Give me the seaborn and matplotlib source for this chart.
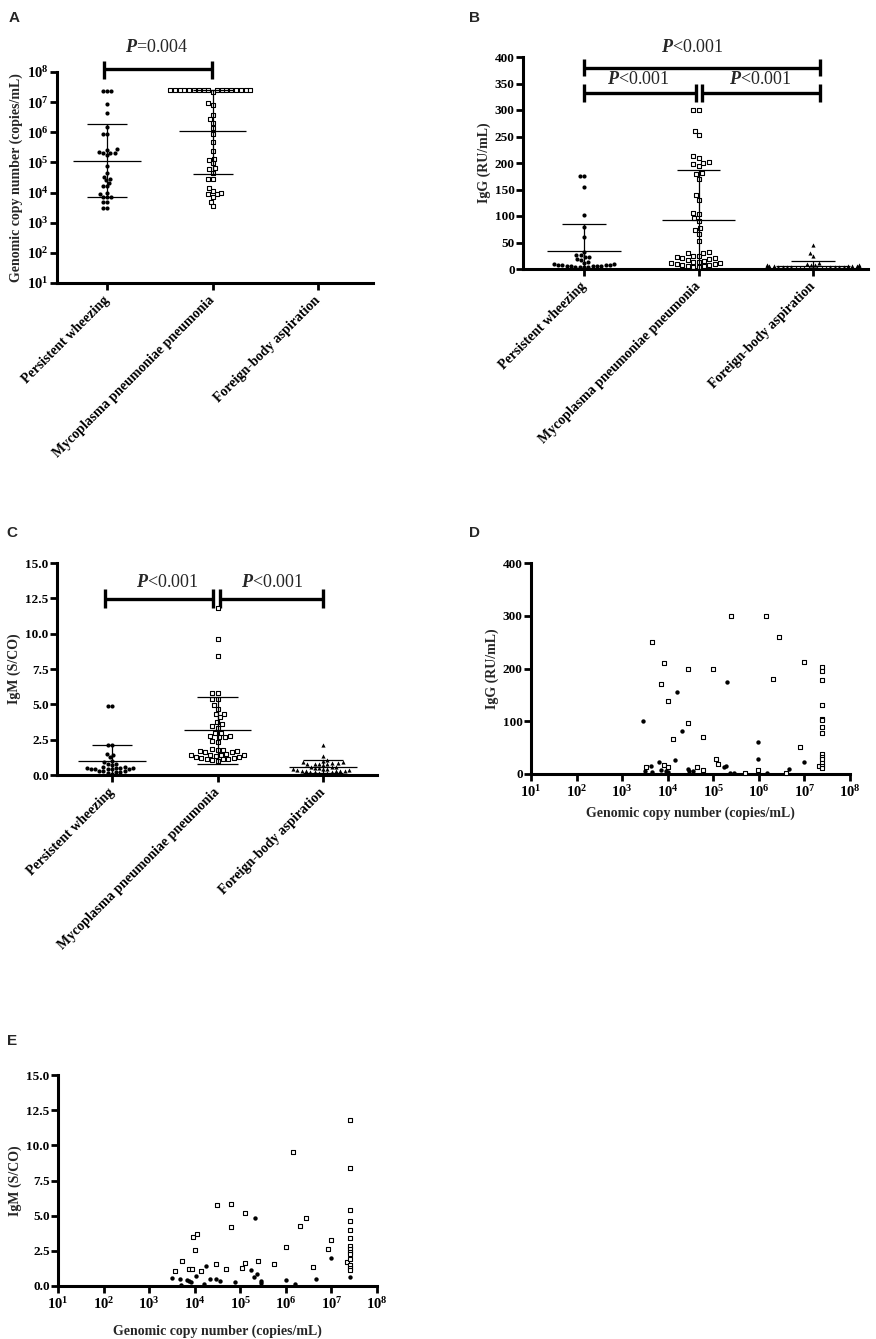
import numpy as np
import pandas as pd
import matplotlib
matplotlib.use("Agg")
import matplotlib.pyplot as plt
import seaborn as sns
from matplotlib.ticker import FixedLocator, FuncFormatter

# ---------------- data ----------------
groups = ["Persistent wheezing", "Mycoplasma pneumoniae pneumonia", "Foreign-body aspiration"]

# A: genomic copy number (copies/mL)
a_pw = [2.3e7, 2.3e7, 2.3e7, 9e6, 4.3e6, 1.5e6, 9e5, 9e5, 2.7e5, 2.1e5, 2e5, 2.5e5,
        1.7e5, 2.1e5, 2.2e5, 7.6e4, 4.4e4, 3.4e4, 2.9e4, 2.1e4, 2.6e4, 1.6e4, 1.6e4,
        1e4, 9e3, 7e3, 7e3, 7e3, 4.9e3, 4.9e3, 3e3, 3e3]
a_mpp = [2.5e7, 2.5e7, 2.5e7, 2.5e7, 2.5e7, 2.5e7, 2.5e7, 2.5e7, 2.5e7, 2.5e7, 2.5e7,
         2.5e7, 2.5e7, 2.5e7, 2.5e7, 2.5e7, 2.5e7, 2.1e7, 9.5e6, 8.2e6, 3.7e6, 2.7e6,
         2e6, 1.4e6, 9e5, 4.9e5, 2.4e5, 1.3e5, 1.2e5, 9.3e4, 6.3e4, 6e4, 4.6e4, 2.8e4,
         2.8e4, 1.4e4, 1.1e4, 9.6e3, 8.9e3, 9e3, 7.4e3, 5e3, 3.6e3]
a_mid = [1.15e5, 1.07e6]
a_lo = [6.9e3, 4.2e4]
a_hi = [1.9e6, 2.6e7]

# B: IgG (RU/mL)
b_pw = [175, 175, 154, 101, 80, 60, 33, 26, 22, 18, 14, 17, 22, 27, 11, 9, 8, 7, 6, 5,
        5, 4, 4, 3, 5, 6, 7, 8, 9, 4]
b_mpp = [300, 300, 260, 252, 213, 210, 201, 199, 195, 200, 181, 179, 170, 140, 131, 103,
         106, 96, 90, 77, 73, 66, 53, 33, 30, 30, 25, 22, 20, 19, 17, 16, 14, 14, 12, 11,
         10, 9, 8, 7, 6, 5, 4, 3, 25, 20]
b_fba = [46, 31, 25, 11, 9, 8, 7, 7, 6, 6, 5, 5, 5, 4, 4, 4, 3, 3, 3, 3, 2, 2, 2, 2,
         1, 1, 1, 1, 8, 6, 5, 4]
b_mid = [34, 93, 5]
b_lo = [-16, 0, -6]
b_hi = [84, 186, 16]

# C: IgM (S/CO)
c_pw = [4.9, 4.9, 2.1, 2.1, 1.5, 1.4, 1.25, 1.0, 0.95, 0.8, 0.75, 0.7, 0.6, 0.55, 0.5,
        0.5, 0.5, 0.5, 0.45, 0.45, 0.45, 0.4, 0.4, 0.3, 0.3, 0.25, 0.2, 0.2, 0.15, 0.1]
c_mpp = [11.8, 9.6, 8.4, 5.8, 5.8, 5.35, 5.35, 4.95, 4.7, 4.35, 4.35, 4.07, 3.77, 3.6,
         3.46, 3.34, 3.0, 2.94, 2.75, 2.75, 2.66, 2.66, 2.42, 2.3, 1.86, 1.8, 1.75, 1.7,
         1.7, 1.65, 1.6, 1.5, 1.45, 1.45, 1.4, 1.4, 1.35, 1.3, 1.25, 1.2, 1.2, 1.15,
         1.1, 1.1, 1.05, 1.0]
c_fba = [2.1, 1.34, 1.06, 1.0, 0.9, 0.9, 0.85, 0.85, 0.8, 0.8, 0.8, 0.75, 0.7, 0.6, 0.6,
         0.55, 0.5, 0.5, 0.45, 0.4, 0.4, 0.35, 0.35, 0.3, 0.3, 0.3, 0.25, 0.25, 0.2, 0.2,
         0.2, 0.15, 0.15, 0.1]
c_mid = [1.0, 3.15, 0.59]
c_lo = [-0.15, 0.78, 0.12]
c_hi = [2.15, 5.53, 1.06]

# D: IgG vs copy number
d_sq_copy = [3.4e3, 4.6e3, 7.1e3, 8.5e3, 1.02e4, 1.3e4, 2.75e4, 2.8e4, 8.5e3, 1e4, 6e4,
             4.4e4, 6e4, 9.8e4, 1.15e5, 1.26e5, 2.4e5, 4.9e5, 9.8e5, 1.4e6, 2e6, 2.7e6,
             4e6, 8.1e6, 9.7e6, 2.1e7, 2.45e7, 2.45e7, 2.45e7, 2.45e7, 2.45e7, 2.45e7,
             2.45e7, 2.45e7, 2.45e7, 2.45e7, 2.45e7, 2.45e7, 2.45e7, 2.45e7]
d_sq_igg = [13, 251, 170, 210, 139, 66, 200, 97, 18, 14, 71, 13, 7, 200, 28, 19, 300, 2,
            8, 300, 180, 260, 2, 52, 213, 16, 202, 195, 178, 131, 104, 103, 89, 78, 37,
            32, 28, 21, 16, 11]
d_ci_copy = [2.9e3, 3.2e3, 4.4e3, 4.6e3, 6.5e3, 7.1e3, 9.1e3, 1e4, 1.58e4, 1.45e4,
             2.05e4, 2.75e4, 3e4, 3.5e4, 2.05e5, 1.7e5, 1.9e5, 2.3e5, 2.8e5, 9.5e5,
             9.5e5, 1.5e6, 4.5e6, 1e7, 2.45e7]
d_ci_igg = [101, 6, 16, 4, 22, 8, 6, 4, 155, 26, 82, 9, 5, 5, 174, 13, 16, 2, 2, 61, 28,
            2, 9, 23, 33]

# E: IgM vs copy number
e_sq_copy = [3.7e3, 5.2e3, 7.6e3, 8.9e3, 9.3e3, 1e4, 1.15e4, 1.4e4, 3.1e4, 3e4, 4.9e4,
             6.3e4, 6.3e4, 1.08e5, 1.27e5, 1.3e5, 2.5e5, 5.4e5, 1e6, 1.4e6, 2.05e6,
             2.7e6, 4e6, 8.4e6, 1e7, 2.2e7, 2.5e7, 2.5e7, 2.5e7, 2.5e7, 2.5e7, 2.5e7,
             2.5e7, 2.5e7, 2.5e7, 2.5e7, 2.5e7, 2.5e7, 2.5e7, 2.5e7]
e_sq_igm = [1.07, 1.78, 1.18, 1.21, 3.5, 2.54, 3.67, 1.04, 5.76, 1.54, 1.21, 5.8, 4.2,
            1.26, 1.6, 5.2, 1.8, 1.54, 2.8, 9.55, 4.29, 4.83, 1.33, 2.63, 3.27, 1.68,
            11.8, 8.36, 5.38, 4.64, 4.0, 3.44, 2.84, 2.6, 2.42, 2.25, 1.92, 1.49, 1.3,
            1.11]
e_ci_copy = [3.2e3, 4.8e3, 5.1e3, 6.9e3, 7.6e3, 8.4e3, 1.07e4, 1.6e4, 1.74e4, 2.2e4,
             3e4, 3.6e4, 7.6e4, 1.7e5, 2.05e5, 2.3e5, 2.1e5, 2.9e5, 2.85e5, 1e6, 1.6e6,
             4.7e6, 1e7, 2.5e7]
e_ci_igm = [0.59, 0.47, 0.05, 0.43, 0.33, 0.26, 0.71, 0.12, 1.42, 0.5, 0.47, 0.38, 0.26,
            1.14, 0.66, 0.85, 4.86, 0.38, 0.19, 0.43, 0.12, 0.52, 1.97, 0.66]

# ---------------- style ----------------
sns.set_style("ticks")
plt.rcParams['font.family'] = ['Liberation Serif', 'DejaVu Serif']
plt.rcParams['font.weight'] = 'bold'
plt.rcParams['axes.labelweight'] = 'bold'
plt.rcParams['mathtext.fontset'] = 'custom'
plt.rcParams['mathtext.rm'] = 'Liberation Serif'
plt.rcParams['mathtext.it'] = 'Liberation Serif:italic'
plt.rcParams['mathtext.bf'] = 'Liberation Serif:bold'

W, H = 876, 1339
fig = plt.figure(figsize=(W / 100, H / 100), dpi=100)


def rect(l, t, r, b):
    return [l / W, 1 - b / H, (r - l) / W, (b - t) / H]


def style_ax(ax):
    sns.despine(ax=ax)
    for s in ["left", "bottom"]:
        ax.spines[s].set_linewidth(2.2)
        ax.spines[s].set_color("black")
    ax.tick_params(width=2, length=5, labelsize=9.5, pad=1, colors="black")


pow_fmt = FuncFormatter(lambda v, p: r"$\mathbf{10^{%d}}$" % round(np.log10(v)))
MK = dict(circle=dict(marker="o", color="black", linewidth=0),
          square=dict(marker="s", color="white", edgecolor="black", linewidth=0.8),
          tri=dict(marker="^", color="black", linewidth=0))


def swarm(ax, vals, gi, kind, size=3.0):
    sns.swarmplot(x=[groups[gi]] * len(vals), y=vals, order=groups, ax=ax,
                  size=size, clip_on=False, zorder=3, **MK[kind])


def summary(ax, mid, lo, hi):
    for i in range(len(mid)):
        ax.hlines(mid[i], i - 0.32, i + 0.32, color="black", lw=0.9, zorder=4)
        ax.hlines([lo[i], hi[i]], i - 0.19, i + 0.19, color="black", lw=0.9, zorder=4)
        ax.vlines(i, lo[i], hi[i], color="black", lw=0.9, zorder=4)


def bracket(ax, x0, x1, y, ylo, yhi):
    kw = dict(color="black", lw=2.4, clip_on=False, solid_capstyle="butt")
    ax.plot([x0, x1], [y, y], **kw)
    ax.plot([x0, x0], [ylo, yhi], **kw)
    ax.plot([x1, x1], [ylo, yhi], **kw)


def ptext(ax, x, y, s):
    ax.text(x, y, s, ha="center", va="center", fontsize=13, fontweight="normal",
            clip_on=False)


def cat_labels(ax):
    ax.set_xticks(range(3))
    ax.set_xticklabels(groups, rotation=45, ha="right", va="center",
                       rotation_mode="anchor", fontsize=10)
    ax.tick_params(axis="x", pad=6)
    ax.set_xlabel("")


# ---------------- A ----------------
ax = fig.add_axes(rect(57, 72, 373, 283))
ax.set_yscale("log")
ax.set_ylim(10, 1e8)
ax.set_xlim(-0.474, 2.52)
swarm(ax, a_pw, 0, "circle")
swarm(ax, a_mpp, 1, "square", size=2.5)
summary(ax, a_mid, a_lo, a_hi)
ax.yaxis.set_major_locator(FixedLocator([10 ** k for k in range(1, 9)]))
ax.yaxis.set_major_formatter(pow_fmt)
ax.yaxis.set_minor_locator(FixedLocator([]))
ax.set_xlim(-0.474, 2.52)
ax.set_ylim(10, 1e8)
style_ax(ax)
ax.tick_params(axis="y", labelsize=10.5)
cat_labels(ax)
ax.set_ylabel("Genomic copy number (copies/mL)", fontsize=10, labelpad=3)
bracket(ax, -0.03, 0.99, 10 ** 8.1, 10 ** 7.77, 10 ** 8.37)
ptext(ax, 0.47, 10 ** 8.8, r"$\mathit{P}$=0.004")

# ---------------- B ----------------
ax = fig.add_axes(rect(523, 57, 868, 269))
ax.set_ylim(0, 400)
ax.set_xlim(-0.533, 2.48)
swarm(ax, b_pw, 0, "circle")
swarm(ax, b_mpp, 1, "square", size=3.0)
swarm(ax, b_fba, 2, "tri")
summary(ax, b_mid, b_lo, b_hi)
ax.set_yticks(range(0, 401, 50))
ax.set_xlim(-0.533, 2.48)
ax.set_ylim(0, 400)
style_ax(ax)
cat_labels(ax)
ax.set_ylabel("IgG (RU/mL)", fontsize=10, labelpad=3)
bracket(ax, 0, 2.06, 379, 364, 396)
bracket(ax, 0, 0.98, 332, 315, 349)
bracket(ax, 1.03, 2.06, 332, 315, 349)
ptext(ax, 0.95, 417, r"$\mathit{P}$<0.001")
ptext(ax, 0.47, 357, r"$\mathit{P}$<0.001")
ptext(ax, 1.54, 357, r"$\mathit{P}$<0.001")

# ---------------- C ----------------
ax = fig.add_axes(rect(57, 563, 377, 775))
ax.set_ylim(0, 15)
ax.set_xlim(-0.52, 2.51)
swarm(ax, c_pw, 0, "circle")
swarm(ax, c_mpp, 1, "square", size=3.0)
swarm(ax, c_fba, 2, "tri")
summary(ax, c_mid, c_lo, c_hi)
ax.set_yticks(np.arange(0, 15.1, 2.5))
ax.yaxis.set_major_formatter(FuncFormatter(lambda v, p: "%.1f" % v))
ax.set_xlim(-0.52, 2.51)
ax.set_ylim(0, 15)
style_ax(ax)
cat_labels(ax)
ax.set_ylabel("IgM (S/CO)", fontsize=10, labelpad=3)
bracket(ax, -0.07, 0.96, 12.45, 11.8, 13.16)
bracket(ax, 1.02, 2.0, 12.45, 11.8, 13.16)
ptext(ax, 0.52, 13.6, r"$\mathit{P}$<0.001")
ptext(ax, 1.52, 13.6, r"$\mathit{P}$<0.001")

# ---------------- D ----------------
ax = fig.add_axes(rect(531, 563, 850, 774))
ax.set_xscale("log")
sns.scatterplot(x=d_ci_copy, y=d_ci_igg, ax=ax, marker="o", color="black", s=10,
                linewidth=0, clip_on=False, zorder=3)
sns.scatterplot(x=d_sq_copy, y=d_sq_igg, ax=ax, marker="s", color="white",
                edgecolor="black", s=11, linewidth=0.8, clip_on=False, zorder=3)
ax.set_xlim(10, 1e8)
ax.set_ylim(0, 400)
ax.xaxis.set_major_locator(FixedLocator([10 ** k for k in range(1, 9)]))
ax.xaxis.set_major_formatter(pow_fmt)
ax.xaxis.set_minor_locator(FixedLocator([]))
ax.set_yticks(range(0, 401, 100))
style_ax(ax)
ax.tick_params(axis="x", labelsize=10.5, pad=2)
ax.set_ylabel("IgG (RU/mL)", fontsize=10, labelpad=3)
ax.set_xlabel("Genomic copy number (copies/mL)", fontsize=10, labelpad=5)

# ---------------- E ----------------
ax = fig.add_axes(rect(58, 1075, 377, 1286))
ax.set_xscale("log")
sns.scatterplot(x=e_ci_copy, y=e_ci_igm, ax=ax, marker="o", color="black", s=10,
                linewidth=0, clip_on=False, zorder=3)
sns.scatterplot(x=e_sq_copy, y=e_sq_igm, ax=ax, marker="s", color="white",
                edgecolor="black", s=11, linewidth=0.8, clip_on=False, zorder=3)
ax.set_xlim(10, 1e8)
ax.set_ylim(0, 15)
ax.xaxis.set_major_locator(FixedLocator([10 ** k for k in range(1, 9)]))
ax.xaxis.set_major_formatter(pow_fmt)
ax.xaxis.set_minor_locator(FixedLocator([]))
ax.set_yticks(np.arange(0, 15.1, 2.5))
ax.yaxis.set_major_formatter(FuncFormatter(lambda v, p: "%.1f" % v))
style_ax(ax)
ax.tick_params(axis="x", labelsize=10.5, pad=2)
ax.set_ylabel("IgM (S/CO)", fontsize=10, labelpad=3)
ax.set_xlabel("Genomic copy number (copies/mL)", fontsize=10, labelpad=9)

# panel letters
for letter, (px, py) in zip("ABCDE", [(14, 18), (475, 18), (12, 533), (475, 533), (12, 1041)]):
    fig.text(px / W, 1 - py / H, letter, fontsize=11, fontweight="bold",
             family=["Liberation Sans", "DejaVu Sans"], ha="center", va="center")

fig.savefig("out.png", dpi=100)
